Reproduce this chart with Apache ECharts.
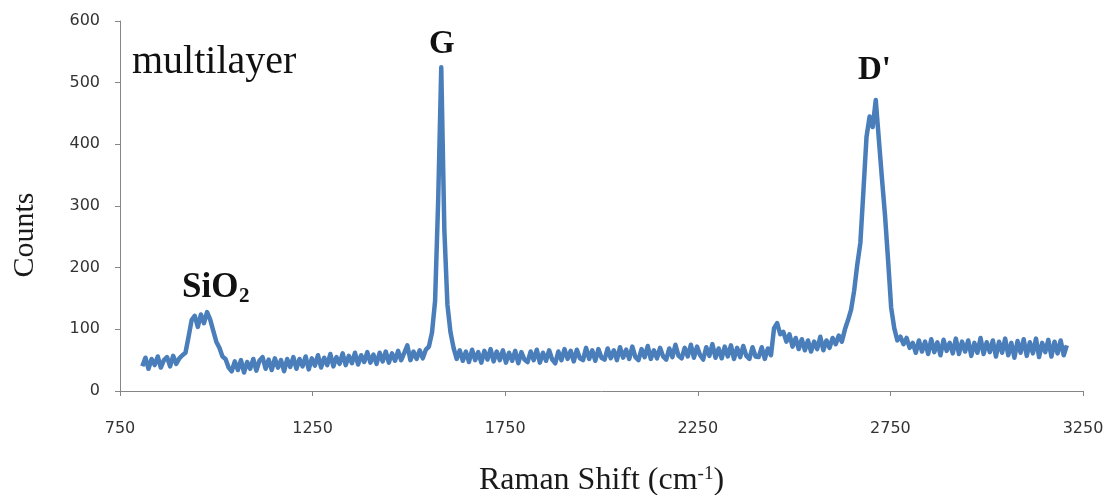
<!DOCTYPE html>
<html>
<head>
<meta charset="utf-8">
<script src="https://cdn.jsdelivr.net/npm/echarts@6/dist/echarts.min.js"></script>
<style>
  html, body { margin: 0; padding: 0; background: #fff; }
  #myChart { width: 1116px; height: 495px; }
</style>
</head>
<body>
<div id="myChart"></div>
<script>
// Raman spectrum, multilayer graphene on SiO2
// shift grid: one reading every 8 cm-1 starting at 808
const shiftStart = 808
const shiftStep = 8

const counts = [
  // 808 - 1000
  40, 54, 36, 52, 42, 56, 38, 50, 55, 40, 57, 44, 53, 58, 62, 88, 115, 122, 104, 124, 110, 128, 116, 98, 80,
  // 1008 - 1200
  70, 56, 52, 38, 32, 48, 34, 50, 30, 47, 36, 52, 33, 49, 55, 36, 51, 34, 53, 38, 50, 32, 52, 39, 55,
  // 1208 - 1400
  36, 52, 40, 56, 35, 53, 41, 58, 38, 54, 42, 60, 40, 55, 44, 61, 42, 57, 45, 62, 43, 58, 47, 63, 46,
  // 1408 - 1600
  59, 44, 62, 48, 64, 46, 61, 49, 65, 50, 62, 74, 50, 64, 52, 66, 53, 67, 72, 95, 146, 309, 525, 262, 140,
  // 1608 - 1800
  95, 70, 52, 66, 49, 64, 47, 67, 50, 63, 46, 65, 51, 68, 48, 64, 50, 66, 46, 62, 49, 65, 45, 63, 51,
  // 1808 - 2000
  47, 64, 50, 67, 46, 62, 49, 66, 51, 45, 64, 50, 68, 52, 65, 48, 67, 53, 50, 70, 52, 66, 49, 68, 54,
  // 2008 - 2200
  51, 69, 53, 66, 50, 71, 54, 67, 52, 72, 55, 50, 68, 55, 73, 52, 66, 53, 70, 56, 51, 69, 55, 75, 57,
  // 2208 - 2400
  53, 70, 56, 75, 54, 72, 58, 51, 71, 57, 76, 54, 69, 53, 72, 56, 74, 52, 70, 55, 73, 57, 52, 71, 56,
  // 2408 - 2600
  55, 71, 52, 69, 58, 102, 110, 92, 96, 80, 92, 72, 86, 68, 84, 66, 82, 64, 80, 68, 88, 66, 82, 70, 86,
  // 2608 - 2800
  76, 90, 80, 100, 115, 132, 163, 205, 240, 325, 412, 445, 428, 472, 408, 345, 285, 212, 135, 102, 82, 88, 76, 86, 70,
  // 2808 - 3000
  78, 62, 82, 64, 80, 60, 84, 63, 79, 58, 83, 65, 78, 61, 85, 60, 80, 64, 82, 57, 78, 62, 86, 60, 79,
  // 3008 - 3200
  63, 82, 56, 80, 62, 85, 58, 78, 54, 81, 62, 84, 57, 79, 61, 85, 55, 78, 63, 83, 56, 80, 61, 82, 58,
  // 3208
  74
]

const xTicks = [750, 3250, 500]   // min, max, interval
const yTicks = [0, 600, 100]

const peakLabels = ['multilayer', 'G', 'SiO', '2', "D'"]
const yTitle = 'Counts'

let myChart = echarts.init(document.getElementById('myChart'))

let spectrum = counts.map((c, i) => [shiftStart + i * shiftStep, c])

const axisGray = '#868686'
const serif = '"Liberation Serif", "Times New Roman", serif'

myChart.setOption({
    animation: false,
    backgroundColor: 'white',
    grid: {
        left: 120,
        right: 33,
        top: 21,
        bottom: 104,
        outerBoundsMode: 'none',
        containLabel: false
    },
    xAxis: {
        type: 'value',
        min: xTicks[0],
        max: xTicks[1],
        interval: xTicks[2],
        name: 'Raman Shift (cm{sup|-1})',
        nameLocation: 'middle',
        nameGap: 74,
        nameTextStyle: {
            fontFamily: serif,
            fontSize: 32,
            color: '#1a1a1a',
            rich: {
                sup: {
                    fontFamily: serif,
                    fontSize: 19,
                    color: '#1a1a1a',
                    verticalAlign: 'top'
                }
            }
        },
        axisLine: { lineStyle: { color: axisGray, width: 1 } },
        axisTick: { show: true, length: 5, lineStyle: { color: axisGray } },
        axisLabel: {
            margin: 30,
            fontFamily: '"DejaVu Sans", sans-serif',
            fontSize: 16,
            color: '#333',
            formatter: v => String(v)
        },
        splitLine: { show: false }
    },
    yAxis: {
        type: 'value',
        min: yTicks[0],
        max: yTicks[1],
        interval: yTicks[2],
        axisLine: { show: true, lineStyle: { color: axisGray, width: 1 } },
        axisTick: { show: true, length: 5, lineStyle: { color: axisGray } },
        axisLabel: {
            margin: 20,
            fontFamily: '"DejaVu Sans", sans-serif',
            fontSize: 16,
            color: '#333',
            formatter: v => String(v)
        },
        splitLine: { show: false }
    },
    graphic: [
        { type: 'text', x: 25, y: 235, rotation: Math.PI / 2,
          style: { text: yTitle, font: '30px ' + serif, fill: '#1a1a1a', align: 'center', verticalAlign: 'middle' } },
        { type: 'text', left: 132, top: 42, style: { text: peakLabels[0], font: '40px ' + serif, fill: '#111' } },
        { type: 'text', left: 429, top: 28, style: { text: peakLabels[1], font: 'bold 33px ' + serif, fill: '#111' } },
        { type: 'text', left: 182, top: 270, style: { text: peakLabels[2], font: 'bold 35px ' + serif, fill: '#111' } },
        { type: 'text', left: 239, top: 286, style: { text: peakLabels[3], font: 'bold 21px ' + serif, fill: '#111' } },
        { type: 'text', left: 858, top: 54, style: { text: peakLabels[4], font: 'bold 33px ' + serif, fill: '#111' } }
    ],
    series: [{
        name: 'counts',
        type: 'line',
        showSymbol: false,
        symbol: 'none',
        data: spectrum,
        lineStyle: {
            color: '#4a7ebb',
            width: 4.5,
            join: 'round'
        }
    }]
})
</script>
</body>
</html>
